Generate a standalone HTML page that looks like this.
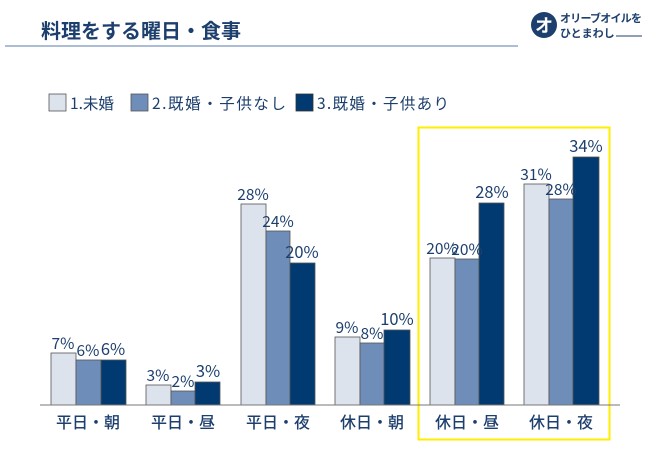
<!DOCTYPE html>
<html><head><meta charset="utf-8"><style>
body{margin:0;background:#fff}
svg{display:block;font-family:"Noto Sans CJK JP","Liberation Sans",sans-serif}
</style></head><body>
<svg width="650" height="450" viewBox="0 0 650 450">
<text x="41" y="38" font-size="20" font-weight="bold" fill="#1d3f6e">料理をする曜日・食事</text>
<line x1="5" y1="46" x2="518" y2="46" stroke="#8fa8c8" stroke-width="1.5"/>
<circle cx="544" cy="25" r="13" fill="#1d3f6e"/>
<text x="544" y="32" font-size="18" font-weight="bold" fill="#fff" text-anchor="middle">オ</text>
<text x="560" y="22" font-size="11" font-weight="bold" fill="#1d3f6e" textLength="82">オリーブオイルを</text>
<text x="560" y="37" font-size="11" font-weight="bold" fill="#1d3f6e">ひとまわし</text>
<line x1="616" y1="36" x2="642" y2="36" stroke="#1d3f6e" stroke-width="1"/>
<g font-size="15.5" fill="#1d3f6e">
<rect x="49" y="94" width="17" height="17" fill="#dde3ec" stroke="#555" stroke-width="0.8"/>
<text x="70" y="109">1.未婚</text>
<rect x="131" y="94" width="17" height="17" fill="#6e8db8" stroke="#555" stroke-width="0.8"/>
<text x="152" y="109" textLength="134">2.既婚・子供なし</text>
<rect x="296" y="94" width="17" height="17" fill="#003a70" stroke="#333" stroke-width="0.8"/>
<text x="317" y="109" textLength="132">3.既婚・子供あり</text>
</g>
<rect x="418.5" y="127.5" width="191" height="312" fill="none" stroke="#ffee00" stroke-width="2"/>
<g stroke="#555" stroke-width="0.8">
<rect x="51" y="353" width="25" height="52" fill="#dde3ec"/><rect x="76" y="360" width="25" height="45" fill="#6e8db8"/><rect x="101" y="360" width="25" height="45" fill="#003a70"/>
<rect x="146" y="385" width="25" height="20" fill="#dde3ec"/><rect x="171" y="391" width="24" height="14" fill="#6e8db8"/><rect x="195" y="382" width="25" height="23" fill="#003a70"/>
<rect x="241" y="204" width="25" height="201" fill="#dde3ec"/><rect x="266" y="231" width="24" height="174" fill="#6e8db8"/><rect x="290" y="263" width="25" height="142" fill="#003a70"/>
<rect x="335" y="337" width="25" height="68" fill="#dde3ec"/><rect x="360" y="343" width="24" height="62" fill="#6e8db8"/><rect x="384" y="330" width="26" height="75" fill="#003a70"/>
<rect x="430" y="258" width="25" height="147" fill="#dde3ec"/><rect x="455" y="259" width="24" height="146" fill="#6e8db8"/><rect x="479" y="203" width="25" height="202" fill="#003a70"/>
<rect x="524" y="184" width="25" height="221" fill="#dde3ec"/><rect x="549" y="199" width="24" height="206" fill="#6e8db8"/><rect x="573" y="157" width="26" height="248" fill="#003a70"/>
</g>
<line x1="40" y1="405" x2="620" y2="405" stroke="#777" stroke-width="1"/>
<g font-size="15.5" fill="#1d3f6e" text-anchor="middle">
<text x="63" y="349">7%</text><text x="88" y="356">6%</text>
<text x="158" y="381">3%</text><text x="183" y="387">2%</text>
<text x="253" y="200">28%</text><text x="278" y="227">24%</text>
<text x="347" y="333">9%</text><text x="372" y="339">8%</text>
<text x="442" y="254">20%</text><text x="467" y="255">20%</text>
<text x="536" y="180">31%</text><text x="561" y="195">28%</text>
</g>
<g font-size="16.5" fill="#1d3f6e" text-anchor="middle">
<text x="113" y="355">6%</text><text x="208" y="377">3%</text><text x="302" y="258">20%</text>
<text x="397" y="325">10%</text><text x="492" y="198">28%</text><text x="586" y="152">34%</text>
</g>
<g font-size="16" font-weight="500" fill="#1d3f6e" text-anchor="middle">
<text x="88" y="428">平日・朝</text><text x="183" y="428">平日・昼</text><text x="278" y="428">平日・夜</text>
<text x="372" y="428">休日・朝</text><text x="467" y="428">休日・昼</text><text x="561" y="428">休日・夜</text>
</g>
</svg>
</body></html>
